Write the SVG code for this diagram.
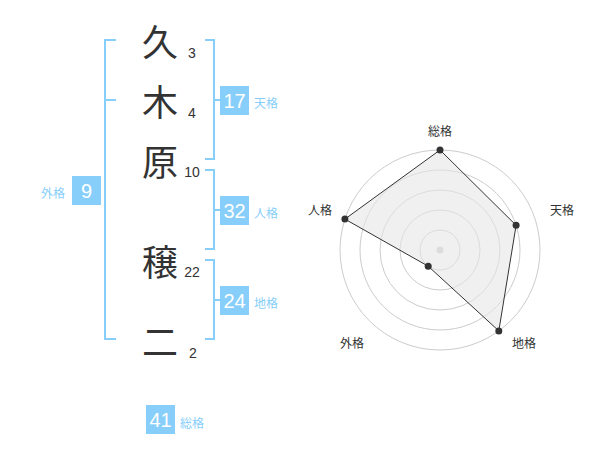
<svg xmlns="http://www.w3.org/2000/svg" width="600" height="470" viewBox="0 0 600 470">
<style>
.ch{font-family:"Noto Sans CJK JP","Noto Sans",sans-serif;font-size:36px;fill:#333;text-anchor:middle;dominant-baseline:central}
.num{font-family:"Liberation Sans",Arial,sans-serif;font-size:14px;fill:#333;text-anchor:middle}
.br{fill:none;stroke:#87cefa;stroke-width:2}
.box{fill:#87cefa}
.bt{font-family:"Liberation Sans",Arial,sans-serif;font-size:20px;fill:#fff;text-anchor:middle;dominant-baseline:central}
.lb{font-family:"Noto Sans CJK JP",sans-serif;font-size:12px;fill:#87cefa;dominant-baseline:central}
.ring{fill:none;stroke:#ccc;stroke-width:1}
.rl{font-family:"Noto Sans CJK JP",sans-serif;font-size:12px;fill:#333;text-anchor:middle;dominant-baseline:central}
.dot{fill:#333}
</style>
<rect width="600" height="470" fill="#fff"/>
<g id="name">
<text class="ch" x="160" y="40">久</text>
<text class="ch" x="160" y="100">木</text>
<text class="ch" x="160" y="160">原</text>
<text class="ch" x="160" y="260">穣</text>
<text class="ch" x="160" y="340">二</text>
<text class="num" x="192" y="58">3</text>
<text class="num" x="192" y="118">4</text>
<text class="num" x="192" y="177">10</text>
<text class="num" x="192" y="277">22</text>
<text class="num" x="193" y="358">2</text>
</g>
<g id="brackets">
<polyline class="br" points="116,40 105,40 105,339 116,339"/>
<line class="br" x1="105" y1="100" x2="116" y2="100"/>
<polyline class="br" points="205,40 214,40 214,159 205,159"/>
<line class="br" x1="214" y1="100" x2="220" y2="100"/>
<polyline class="br" points="205,170 214,170 214,249 205,249"/>
<line class="br" x1="214" y1="210" x2="220" y2="210"/>
<polyline class="br" points="205,260 214,260 214,339 205,339"/>
<line class="br" x1="214" y1="300" x2="220" y2="300"/>
</g>
<g id="tenkaku"><rect class="box" x="220" y="86" width="29" height="29"/><text class="bt" x="234.5" y="101">17</text><text class="lb" x="254" y="102">天格</text></g>
<g id="jinkaku"><rect class="box" x="220" y="196" width="29" height="29"/><text class="bt" x="234.5" y="211">32</text><text class="lb" x="254" y="212">人格</text></g>
<g id="chikaku"><rect class="box" x="220" y="286" width="29" height="29"/><text class="bt" x="234.5" y="301">24</text><text class="lb" x="254" y="302">地格</text></g>
<g id="gaikaku"><rect class="box" x="72" y="176" width="29" height="29"/><text class="bt" x="86.5" y="191">9</text><text class="lb" x="41" y="192">外格</text></g>
<g id="soukaku"><rect class="box" x="146" y="405" width="29" height="29"/><text class="bt" x="160.5" y="420">41</text><text class="lb" x="180" y="422">総格</text></g>
<g id="radar">
<circle class="ring" cx="440" cy="250" r="20"/>
<circle class="ring" cx="440" cy="250" r="40"/>
<circle class="ring" cx="440" cy="250" r="60"/>
<circle class="ring" cx="440" cy="250" r="80"/>
<circle class="ring" cx="440" cy="250" r="100"/>
<circle cx="440" cy="250" r="3.5" fill="#ccc"/>
<polygon points="440,150 516.1,225.3 498.8,330.9 428.2,266.2 344.9,219.1" fill="#e6e6e6" fill-opacity="0.6" stroke="#333" stroke-width="1"/>
<circle class="dot" cx="440" cy="150" r="3.5"/>
<circle class="dot" cx="516.1" cy="225.3" r="3.5"/>
<circle class="dot" cx="498.8" cy="330.9" r="3.5"/>
<circle class="dot" cx="428.2" cy="266.2" r="3.5"/>
<circle class="dot" cx="344.9" cy="219.1" r="3.5"/>
<text class="rl" x="440" y="130">総格</text>
<text class="rl" x="562" y="209">天格</text>
<text class="rl" x="320" y="209">人格</text>
<text class="rl" x="352" y="342">外格</text>
<text class="rl" x="524" y="342">地格</text>
</g>
</svg>
